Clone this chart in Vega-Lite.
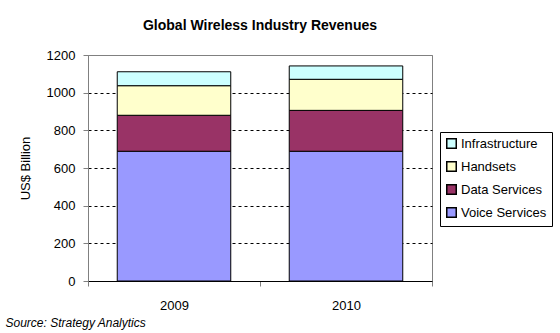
{
  "$schema": "https://vega.github.io/schema/vega-lite/v6.json",
  "width": 344,
  "height": 226,
  "autosize": {"type": "none"},
  "padding": {"left": 88, "top": 55, "right": 128, "bottom": 52},
  "background": "white",
  "title": {
    "text": "Global Wireless Industry Revenues",
    "font": "Liberation Sans",
    "fontSize": 14,
    "fontWeight": "bold",
    "color": "black",
    "anchor": "middle",
    "frame": "group",
    "offset": 16
  },
  "data": {
    "values": [
      {"year": "2009", "segment": "Voice Services", "value": 689},
      {"year": "2009", "segment": "Data Services", "value": 191},
      {"year": "2009", "segment": "Handsets", "value": 157},
      {"year": "2009", "segment": "Infrastructure", "value": 74},
      {"year": "2010", "segment": "Voice Services", "value": 689},
      {"year": "2010", "segment": "Data Services", "value": 217},
      {"year": "2010", "segment": "Handsets", "value": 165},
      {"year": "2010", "segment": "Infrastructure", "value": 71}
    ]
  },
  "transform": [
    {"calculate": "datum.segment === 'Voice Services' ? 0 : datum.segment === 'Data Services' ? 1 : datum.segment === 'Handsets' ? 2 : 3", "as": "stackOrder"}
  ],
  "mark": {"type": "bar", "width": {"band": 0.66}, "stroke": "black"},
  "encoding": {
    "x": {
      "field": "year",
      "type": "nominal",
      "scale": {"paddingInner": 0, "paddingOuter": 0},
      "axis": {
        "labelAngle": 0,
        "labelFont": "Liberation Sans",
        "labelFontSize": 13,
        "labelColor": "black",
        "labelPadding": 13,
        "tickBand": "extent",
        "tickColor": "#808080",
        "tickSize": 5,
        "domainColor": "black",
        "title": "Source: Strategy Analytics",
        "titleFont": "Liberation Sans",
        "titleFontSize": 12,
        "titleFontStyle": "italic",
        "titleFontWeight": "normal",
        "titleColor": "black",
        "titleAnchor": "start",
        "titleAlign": "left",
        "titleBaseline": "alphabetic",
        "titleX": -83,
        "titleY": 45
      }
    },
    "y": {
      "field": "value",
      "type": "quantitative",
      "stack": "zero",
      "scale": {"domain": [0, 1200]},
      "axis": {
        "values": [0, 200, 400, 600, 800, 1000, 1200],
        "format": "d",
        "labelFont": "Liberation Sans",
        "labelFontSize": 13,
        "labelColor": "black",
        "labelPadding": 8,
        "tickColor": "#808080",
        "tickSize": 5,
        "domainColor": "#808080",
        "grid": true,
        "gridDash": [3, 3],
        "gridColor": {"condition": {"test": "datum.value === 0 || datum.value === 1200", "value": "#808080"}, "value": "black"},
        "title": "US$ Billion",
        "titleFont": "Liberation Sans",
        "titleFontSize": 13,
        "titleFontWeight": "normal",
        "titleColor": "black",
        "titleAngle": -90,
        "titleAlign": "center",
        "titleBaseline": "middle",
        "titleX": -63,
        "titleY": 113
      }
    },
    "color": {
      "field": "segment",
      "type": "nominal",
      "scale": {
        "domain": ["Infrastructure", "Handsets", "Data Services", "Voice Services"],
        "range": ["#CCFFFF", "#FFFFCC", "#993366", "#9999FF"]
      },
      "legend": {
        "title": null,
        "orient": "none",
        "legendX": 352,
        "legendY": 77,
        "strokeColor": "black",
        "padding": 5,
        "symbolType": "square",
        "symbolSize": 90,
        "symbolStrokeColor": "black",
        "labelFont": "Liberation Sans",
        "labelFontSize": 13,
        "labelColor": "black",
        "labelOffset": 3,
        "rowPadding": 6
      }
    },
    "order": {"field": "stackOrder", "type": "quantitative"}
  },
  "config": {
    "view": {"stroke": "#808080"}
  }
}
